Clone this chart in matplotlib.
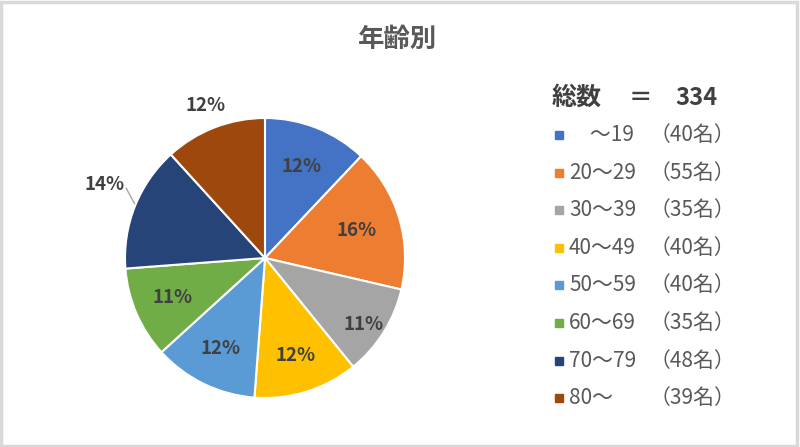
import numpy as np
import matplotlib.pyplot as plt
from matplotlib.patches import Rectangle

plt.rcParams['font.family'] = ['Noto Sans CJK JP', 'DejaVu Sans']

# data
ranges = ['　～19', '20～29', '30～39', '40～49', '50～59', '60～69', '70～79', '80～　']
counts = [40, 55, 35, 40, 40, 35, 48, 39]
pct_labels = ['12%', '16%', '11%', '12%', '12%', '11%', '14%', '12%']
total = 334

colors = ['#4472C4', '#ED7D31', '#A5A5A5', '#FFC000',
          '#5B9BD5', '#70AD47', '#264478', '#9E480E']
# label placement: distance from centre (radii) and angle shift (deg)
label_r = [0.70, 0.68, 0.85, 0.73, 0.72, 0.72, 1.26, 1.17]
label_dang = [0, 0, -2, 0, 0, 0, -3, 0]

W, H = 800, 447
fig = plt.figure(figsize=(8, 4.47), dpi=100)
fig.patch.set_facecolor('white')

# grey frame
fig.patches.append(Rectangle((0.0015, 0.003), 0.995, 0.993, transform=fig.transFigure,
                             fill=False, edgecolor='#d9d9d9', linewidth=2.5))

ax = fig.add_axes([125 / W, (H - 398) / H, 280 / W, 280 / H])
wedges, _ = ax.pie(counts, colors=colors, startangle=90, counterclock=False,
                   wedgeprops=dict(edgecolor='white', linewidth=1.5))
ax.set_xlim(-1, 1)
ax.set_ylim(-1, 1)
ax.set_aspect('equal')

for i, w in enumerate(wedges):
    mid = (w.theta1 + w.theta2) / 2
    ang = np.deg2rad(mid + label_dang[i])
    r = label_r[i]
    ax.text(r * np.cos(ang), r * np.sin(ang), pct_labels[i], ha='center', va='center',
            fontsize=13.5, fontweight='bold', color='#404040', clip_on=False)
    if r > 1.2:
        a0 = np.deg2rad(mid - 1)
        a1 = np.deg2rad(mid - 5)
        ax.plot([1.01 * np.cos(a0), 1.11 * np.cos(a1)],
                [1.01 * np.sin(a0), 1.11 * np.sin(a1)],
                color='#a6a6a6', linewidth=1, clip_on=False)

# title
fig.text(398 / W, 1 - 39 / H, '年齢別', ha='center', va='center',
         fontsize=19, fontweight='bold', color='#595959')

# legend
fig.text(552 / W, 1 - 98 / H, '総数', ha='left', va='center',
         fontsize=18, fontweight='bold', color='#404040')
fig.text(640 / W, 1 - 98 / H, '＝', ha='center', va='center',
         fontsize=17, fontweight='bold', color='#404040')
fig.text(675 / W, 1 - 98 / H, str(total), ha='left', va='center',
         fontsize=17, fontweight='bold', color='#404040')

for i, (lab, c) in enumerate(zip(ranges, counts)):
    y = 1 - (135 + i * 37.6) / H
    fig.patches.append(Rectangle((555 / W, y - 4 / H), 8 / W, 8 / H,
                                 transform=fig.transFigure, color=colors[i]))
    fig.text(569 / W, y, lab, ha='left', va='center', fontsize=15, color='#595959')
    fig.text(650 / W, y, f'（{c}名）', ha='left', va='center', fontsize=15, color='#595959')

fig.savefig('out.png', dpi=100, facecolor='white')
